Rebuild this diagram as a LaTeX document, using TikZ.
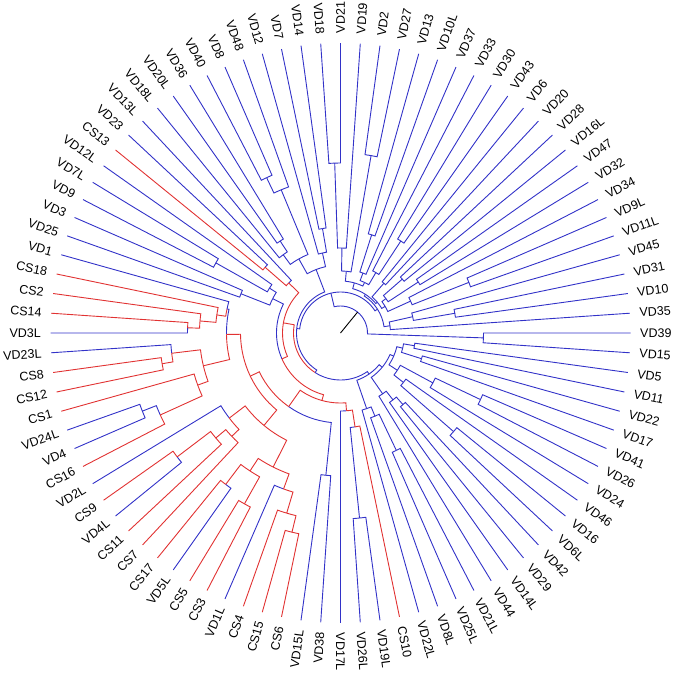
\documentclass[tikz,border=0pt]{standalone}
\usepackage{fontspec}
\setmainfont{Liberation Sans}
\definecolor{vdblue}{RGB}{50,50,200}
\definecolor{csred}{RGB}{225,50,50}

\tikzset{
    dg/.style={line width=0.9pt},
    lbl/.style={font=\fontsize{12.5}{13}\selectfont, inner sep=0pt, text=black}
}

% leaf: name, position, colour
\newcommand\leaf[3]{%
    \pgfmathsetmacro\tipang{#2*3.9130435}%
    \expandafter\xdef\csname dga#1\endcsname{\tipang}%
    \expandafter\xdef\csname dgc#1\endcsname{#3}%
    \expandafter\xdef\csname dgp#1\endcsname{t#1}%
    \coordinate (t#1) at (\tipang:290pt);
    \pgfmathtruncatemacro\tipside{(\tipang>90.5)&&(\tipang<269.5)}%
    \ifnum\tipside=1
        \pgfmathsetmacro\tiprot{\tipang+180}%
        \node[lbl,anchor=east,rotate=\tiprot] (#1) at (\tipang:299.5pt) {#1};
    \else
        \node[lbl,anchor=west,rotate=\tipang] (#1) at (\tipang:299.5pt) {#1};
    \fi
}

% clade: name, child a, child b, radius, colour
\newcommand\clade[5]{%
    \edef\ja{\csname dga#2\endcsname}%
    \edef\jb{\csname dga#3\endcsname}%
    \edef\jca{\csname dgc#2\endcsname}%
    \edef\jcb{\csname dgc#3\endcsname}%
    \edef\jpa{\csname dgp#2\endcsname}%
    \edef\jpb{\csname dgp#3\endcsname}%
    \pgfmathsetmacro\jm{(\ja+\jb)/2}%
    \expandafter\xdef\csname dga#1\endcsname{\jm}%
    \expandafter\xdef\csname dgc#1\endcsname{#5}%
    \expandafter\xdef\csname dgp#1\endcsname{#1}%
    \coordinate (#1) at (\jm:#4pt);
    \draw[dg,draw=\jca] (#1) arc[start angle=\jm, end angle=\ja, radius=#4pt] -- (\jpa);
    \draw[dg,draw=\jcb] (#1) arc[start angle=\jm, end angle=\jb, radius=#4pt] -- (\jpb);
}

\begin{document}
\begin{tikzpicture}[x=1pt,y=1pt]
    \useasboundingbox (-340.5,-342) rectangle (334.5,333);

    % TIPS
    \foreach \nm/\ix/\cl in {VD15/-1/vdblue, VD39/0/vdblue, VD35/1/vdblue, VD10/2/vdblue,
        VD31/3/vdblue, VD45/4/vdblue, VD11L/5/vdblue, VD9L/6/vdblue, VD34/7/vdblue,
        VD32/8/vdblue, VD47/9/vdblue, VD16L/10/vdblue, VD28/11/vdblue, VD20/12/vdblue,
        VD6/13/vdblue, VD43/14/vdblue, VD30/15/vdblue, VD33/16/vdblue, VD37/17/vdblue,
        VD10L/18/vdblue, VD13/19/vdblue, VD27/20/vdblue, VD2/21/vdblue, VD19/22/vdblue,
        VD21/23/vdblue, VD18/24/vdblue, VD14/25/vdblue, VD7/26/vdblue, VD12/27/vdblue,
        VD48/28/vdblue, VD8/29/vdblue, VD40/30/vdblue, VD36/31/vdblue, VD20L/32/vdblue,
        VD18L/33/vdblue, VD13L/34/vdblue, VD23/35/vdblue, CS13/36/csred, VD12L/37/vdblue,
        VD7L/38/vdblue, VD9/39/vdblue, VD3/40/vdblue, VD25/41/vdblue, VD1/42/vdblue,
        CS18/43/csred, CS2/44/csred, CS14/45/csred, VD3L/46/vdblue, VD23L/47/vdblue,
        CS8/48/csred, CS12/49/csred, CS1/50/csred, VD24L/51/vdblue, VD4/52/vdblue,
        CS16/53/csred, VD2L/54/vdblue, CS9/55/csred, VD4L/56/vdblue, CS11/57/csred,
        CS7/58/csred, CS17/59/csred, VD5L/60/vdblue, CS5/61/csred, CS3/62/csred,
        VD1L/63/vdblue, CS4/64/csred, CS15/65/csred, CS6/66/csred, VD15L/67/vdblue,
        VD38/68/vdblue, VD17L/69/vdblue, VD26L/70/vdblue, VD19L/71/vdblue, CS10/72/csred,
        VD22L/73/vdblue, VD8L/74/vdblue, VD25L/75/vdblue, VD21L/76/vdblue, VD44/77/vdblue,
        VD14L/78/vdblue, VD29/79/vdblue, VD42/80/vdblue, VD6L/81/vdblue, VD16/82/vdblue,
        VD46/83/vdblue, VD24/84/vdblue, VD26/85/vdblue, VD41/86/vdblue, VD17/87/vdblue,
        VD22/88/vdblue, VD11/89/vdblue, VD5/90/vdblue}
        {\leaf{\nm}{\ix}{\cl}}

    % RIGHT
    \clade{n1}{VD10}{VD31}{116}{vdblue}
    \clade{n2}{n1}{VD45}{74}{vdblue}
    \clade{n16}{VD35}{n2}{50}{vdblue}
    \clade{n3}{VD11L}{VD9L}{138}{vdblue}
    \clade{n4}{n3}{VD34}{77}{vdblue}
    \clade{n5}{VD32}{VD47}{93}{vdblue}
    \clade{n6}{VD16L}{VD28}{82}{vdblue}
    \clade{n11}{n5}{n6}{57}{vdblue}
    \clade{n17}{n4}{n11}{52}{vdblue}
    \clade{n14}{VD20}{VD6}{66}{vdblue}
    \clade{n18}{n17}{n14}{48}{vdblue}
    \clade{n7}{VD43}{VD30}{110}{vdblue}
    \clade{n8}{n7}{VD33}{70}{vdblue}
    \clade{n9}{VD10L}{VD13}{103}{vdblue}
    \clade{n12}{VD37}{n9}{64}{vdblue}
    \clade{n13}{n8}{n12}{56}{vdblue}
    \clade{n10}{VD27}{VD2}{180}{vdblue}
    \clade{n29}{VD21}{VD18}{170}{vdblue}
    \clade{n30}{VD19}{n29}{85}{vdblue}
    \clade{n19}{n10}{n30}{62}{vdblue}
    \clade{n20}{n13}{n19}{52}{vdblue}
    \clade{n21}{n18}{n20}{46}{vdblue}
    \clade{nR}{n16}{n21}{44}{vdblue}

    % TOP LEFT
    \clade{n26}{VD14}{VD7}{106}{vdblue}
    \clade{n27}{n26}{VD12}{82}{vdblue}
    \clade{n22}{VD8}{VD40}{172}{vdblue}
    \clade{n23}{VD48}{n22}{155}{vdblue}
    \clade{n24}{VD36}{VD20L}{110}{vdblue}
    \clade{n24b}{n24}{VD18L}{97}{vdblue}
    \clade{n25}{n23}{n24b}{85}{vdblue}
    \clade{n28}{n27}{n25}{68}{vdblue}
    \clade{m1}{VD23}{CS13}{100}{csred}
    \clade{m2}{VD13L}{m1}{72}{csred}
    \clade{m3}{VD7L}{VD9}{143}{vdblue}
    \clade{m4}{VD12L}{m3}{84}{vdblue}
    \clade{m6}{VD3}{VD25}{107}{vdblue}
    \clade{m8}{m4}{m6}{76}{vdblue}

    % LEFT
    \clade{p1}{CS14}{VD3L}{153}{csred}
    \clade{p2}{CS2}{p1}{141}{csred}
    \clade{p3}{CS18}{p2}{125}{csred}
    \clade{y1}{VD1}{p3}{116}{vdblue}
    \clade{g1}{CS8}{CS12}{181}{csred}
    \clade{g2}{VD23L}{g1}{170}{csred}
    \clade{g3}{VD24L}{VD4}{213}{vdblue}
    \clade{g4}{g3}{CS16}{198}{csred}
    \clade{g5}{CS1}{g4}{152}{csred}
    \clade{g6}{g2}{g5}{141}{csred}
    \clade{y2}{y1}{g6}{114}{csred}

    % LOWER LEFT
    \clade{w1}{CS15}{CS6}{205}{csred}
    \clade{w2}{CS4}{w1}{188}{csred}
    \clade{w3}{VD1L}{w2}{166}{csred}
    \clade{w4}{CS17}{VD5L}{190}{csred}
    \clade{w5}{CS5}{CS3}{196}{csred}
    \clade{w6}{w4}{w5}{165}{csred}
    \clade{w7}{w6}{w3}{150}{csred}
    \clade{w8}{CS9}{VD4L}{205}{csred}
    \clade{w9}{w8}{CS11}{163}{csred}
    \clade{w10}{w9}{CS7}{150}{csred}
    \clade{w11}{VD2L}{w10}{140}{csred}
    \clade{w12}{w11}{w7}{120}{csred}
    \clade{z0}{y2}{w12}{100}{csred}
    \clade{v1}{VD15L}{VD38}{143}{vdblue}
    \clade{z1}{z0}{v1}{90}{csred}
    \clade{l1}{VD26L}{VD19L}{186}{vdblue}
    \clade{l2}{l1}{CS10}{95}{csred}
    \clade{l3}{VD17L}{l2}{78}{csred}
    \clade{z2}{z1}{l3}{70}{csred}
    \clade{q1}{m8}{z2}{64}{csred}
    \clade{m10}{m2}{q1}{58}{csred}

    % LOWER RIGHT
    \clade{r1}{VD25L}{VD21L}{130}{vdblue}
    \clade{r2}{VD8L}{r1}{90}{vdblue}
    \clade{r3}{VD22L}{r2}{80}{vdblue}
    \clade{r4}{VD29}{VD42}{95}{vdblue}
    \clade{r5}{VD14L}{r4}{85}{vdblue}
    \clade{r6}{VD44}{r5}{74}{vdblue}
    \clade{r7}{VD6L}{VD16}{150}{vdblue}
    \clade{r8}{r7}{VD46}{80}{vdblue}
    \clade{r9}{VD26}{VD41}{155}{vdblue}
    \clade{r10}{VD24}{r9}{105}{vdblue}
    \clade{r11}{r8}{r10}{68}{vdblue}
    \clade{r12}{VD17}{VD22}{85}{vdblue}
    \clade{r13}{VD11}{VD5}{75}{vdblue}
    \clade{r14}{r12}{r13}{64}{vdblue}
    \clade{r15}{r11}{r14}{58}{vdblue}
    \clade{r16}{r6}{r15}{54}{vdblue}
    \clade{r17}{r3}{r16}{50}{vdblue}

    % ROOT
    \clade{nRest}{m10}{r17}{47}{vdblue}
    \clade{nK}{n28}{nRest}{44}{vdblue}
    \clade{nM}{nR}{nK}{41}{vdblue}
    \clade{p0}{VD15}{VD39}{143}{vdblue}
    \clade{root}{p0}{nM}{27}{vdblue}
    \coordinate (ctr) at (0,0);
    \draw[dg] (ctr) -- (root);

\end{tikzpicture}
\end{document}
